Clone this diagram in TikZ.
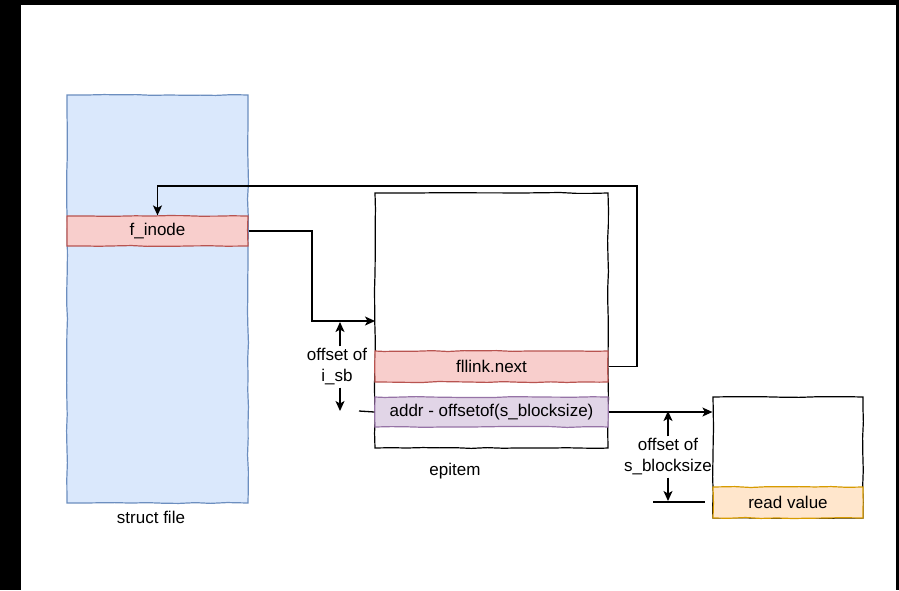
\documentclass[tikz,border=0pt]{standalone}
\usepackage{fontspec}
\setmainfont{Liberation Sans}
\usetikzlibrary{arrows.meta, decorations.pathmorphing}
\definecolor{fileFill}{HTML}{DAE8FC}
\definecolor{fileLine}{HTML}{6C8EBF}
\definecolor{redFill}{HTML}{F8CECC}
\definecolor{redLine}{HTML}{B85450}
\definecolor{purpFill}{HTML}{E1D5E7}
\definecolor{purpLine}{HTML}{9673A6}
\definecolor{orgFill}{HTML}{FFE6CC}
\definecolor{orgLine}{HTML}{D79B00}
\newcommand{\lblsize}{\fontsize{17}{21}\selectfont}
\tikzset{
  rough/.style   ={decoration={random steps, segment length=16pt, amplitude=0.5pt}, decorate},
  blk/.style     ={draw, rectangle, inner sep=0pt, line width=1.2pt, rough, font=\lblsize},
  filebox/.style ={blk, fill=fileFill, draw=fileLine},
  fieldred/.style={blk, fill=redFill, draw=redLine},
  fieldpur/.style={blk, fill=purpFill, draw=purpLine},
  fieldorg/.style={blk, fill=orgFill, draw=orgLine},
  link/.style    ={-{Stealth[length=10pt, width=9pt, inset=2.5pt]}, line width=1.3pt}, % pointer
  tick/.style    ={line width=1.3pt},
  lbl/.style     ={font=\lblsize, align=center, inner sep=0pt},
}

\begin{document}
\begin{tikzpicture}[x=1pt, y=-1pt]
  \fill[black] (0,0) rectangle (899,590);
  \fill[white] (21,5) rectangle (896,590);
  \useasboundingbox (0,0) rectangle (899,590);

  % struct file
  \node[filebox, minimum width=181pt, minimum height=408pt] (file) at (157.5,299) {};
  \node[fieldred, minimum width=181pt, minimum height=30pt] (finode) at (157.5,231) {f\_inode};
  \node[lbl] (filelbl) at (151,517) {struct file};

  % epitem
  \node[blk, minimum width=233pt, minimum height=255pt] (epitem) at (491.5,320.5) {};
  \node[fieldred, minimum width=233pt, minimum height=31pt] (fllink) at (491.5,366.5) {fllink.next};
  \node[fieldpur, minimum width=233pt, minimum height=30pt] (addr) at (491.5,412) {addr - offsetof(s\_blocksize)};
  \node[lbl] (eplbl) at (455,471) {epitem};

  % target block
  \node[blk, minimum width=150pt, minimum height=121pt] (mem) at (788,457.5) {};
  \node[fieldorg, minimum width=150pt, minimum height=31pt] (readval) at (788,502.5) {read value};

  % pointers
  \coordinate (loop) at (637,186);
  \coordinate (bend) at (312,231);
  \coordinate (isb) at (375,321);
  \draw[link] (fllink.east) -| (loop) -| (finode.north);
  \draw[link] (finode.east) -- (bend) |- (isb);
  \draw[link] (addr.east) -- (addr.east -| mem.west);

  % offset of i_sb
  \node[lbl] (isblbl) at (337,367) {offset of\\i\_sb};
  \coordinate (isbtop) at (340,322);
  \coordinate (isbbot) at (340,411);
  \draw[link] (isblbl.north -| isbtop) ++(0,-2) -- (isbtop);
  \draw[link] (isblbl.south -| isbbot) ++(0,2) -- (isbbot);
  \draw[tick] (359,411) -- (addr.west);

  % offset of s_blocksize
  \node[lbl] (sbslbl) at (668,457) {offset of\\s\_blocksize};
  \coordinate (sbstop) at (668,411);
  \coordinate (sbsbot) at (668,501);
  \draw[link] (sbslbl.north -| sbstop) ++(0,-2) -- (sbstop);
  \draw[link] (sbslbl.south -| sbsbot) ++(0,2) -- (sbsbot);
  \draw[tick] (653,502) -- (705,502);
\end{tikzpicture}
\end{document}
